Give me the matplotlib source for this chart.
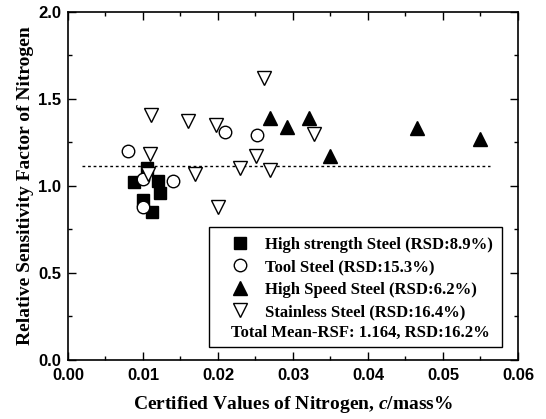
import matplotlib
matplotlib.use("Agg")
import matplotlib.pyplot as plt
from matplotlib.patches import Rectangle
from matplotlib.lines import Line2D
from matplotlib.ticker import MultipleLocator, FormatStrFormatter

# data
hs_x = [0.0088, 0.0106, 0.0120, 0.0123, 0.0100, 0.0112]
hs_y = [1.02, 1.10, 1.03, 0.96, 0.92, 0.85]

tool_x = [0.0080, 0.0100, 0.0100, 0.0140, 0.0210, 0.0252]
tool_y = [1.20, 1.04, 0.875, 1.03, 1.31, 1.29]

speed_x = [0.0270, 0.0292, 0.0322, 0.0349, 0.0466, 0.0550]
speed_y = [1.39, 1.34, 1.39, 1.17, 1.33, 1.27]

stain_x = [0.0111, 0.0109, 0.0107, 0.0160, 0.0198, 0.0169, 0.0200, 0.0229,
           0.0251, 0.0261, 0.0270, 0.0328]
stain_y = [1.41, 1.18, 1.07, 1.37, 1.35, 1.07, 0.88, 1.10,
           1.17, 1.62, 1.09, 1.30]

mean_x = [0.0019, 0.0563]
mean_y = [1.116, 1.116]

labels = ["High strength Steel (RSD:8.9%)", "Tool Steel (RSD:15.3%)",
          "High Speed Steel (RSD:6.2%)", "Stainless Steel (RSD:16.4%)"]
total_label = "Total Mean-RSF: 1.164, RSD:16.2%"

plt.rcParams.update({'mathtext.fontset': 'custom',
                     'mathtext.it': 'Liberation Serif:italic:bold',
                     'mathtext.rm': 'Liberation Serif:bold'})

fig = plt.figure(figsize=(5.46, 4.19), dpi=100)
ax = fig.add_axes([0.1245, 0.142, 0.8242, 0.8294])

ax.plot(mean_x, mean_y, color='black', linestyle=(0, (2, 2)), linewidth=1.0)
ax.plot(hs_x, hs_y, 's', color='black', markersize=8, linestyle='none')
ax.plot(tool_x, tool_y, 'o', mfc='white', mec='black', mew=1.0, markersize=9, linestyle='none')
ax.plot(speed_x, speed_y, '^', color='black', markersize=9.5, linestyle='none')
ax.plot(stain_x, stain_y, 'v', mfc='white', mec='black', mew=1.0, markersize=9.5, linestyle='none')

ax.set_xlim(0, 0.06)
ax.set_ylim(0, 2.0)
ax.xaxis.set_major_locator(MultipleLocator(0.01))
ax.xaxis.set_minor_locator(MultipleLocator(0.005))
ax.yaxis.set_major_locator(MultipleLocator(0.5))
ax.yaxis.set_minor_locator(MultipleLocator(0.25))
ax.xaxis.set_major_formatter(FormatStrFormatter('%.2f'))
ax.yaxis.set_major_formatter(FormatStrFormatter('%.1f'))
ax.tick_params(which='both', direction='in', top=True, right=True, width=1.0)
ax.tick_params(which='major', length=6)
ax.tick_params(which='minor', length=3)
ax.tick_params(axis='x', pad=6)
ax.tick_params(axis='y', pad=5)
for lab in ax.get_xticklabels() + ax.get_yticklabels():
    lab.set_fontfamily('Liberation Sans')
    lab.set_fontweight('bold')
    lab.set_fontsize(12)
for s in ax.spines.values():
    s.set_linewidth(1.2)

ax.set_xlabel("Certified Values of Nitrogen, $c$/mass%", fontfamily='Liberation Serif',
              fontweight='bold', fontsize=14, labelpad=8)
ax.set_ylabel("Relative Sensitivity Factor of Nitrogen", fontfamily='Liberation Serif',
              fontweight='bold', fontsize=14, labelpad=3)

# legend box
ax.add_patch(Rectangle((0.314, 0.037), 0.65, 0.345, transform=ax.transAxes,
                       facecolor='white', edgecolor='black', linewidth=1.0, zorder=5))
handles = [Line2D([], [], marker='s', color='black', markersize=8, linestyle='none'),
           Line2D([], [], marker='o', mfc='white', mec='black', markersize=9, linestyle='none'),
           Line2D([], [], marker='^', color='black', markersize=9.5, linestyle='none'),
           Line2D([], [], marker='v', mfc='white', mec='black', markersize=9.5, linestyle='none')]
leg = ax.legend(handles, labels, loc='upper left', bbox_to_anchor=(0.345, 0.373),
                frameon=False, prop={'family': 'Liberation Serif', 'weight': 'bold', 'size': 12},
                handlelength=1.2, handletextpad=0.92, labelspacing=0.39, borderaxespad=0)
leg.set_zorder(6)
ax.text(0.649, 0.076, total_label, transform=ax.transAxes, ha='center', va='center',
        fontfamily='Liberation Serif', fontweight='bold', fontsize=12, zorder=6)

plt.savefig("out.png", dpi=100)
